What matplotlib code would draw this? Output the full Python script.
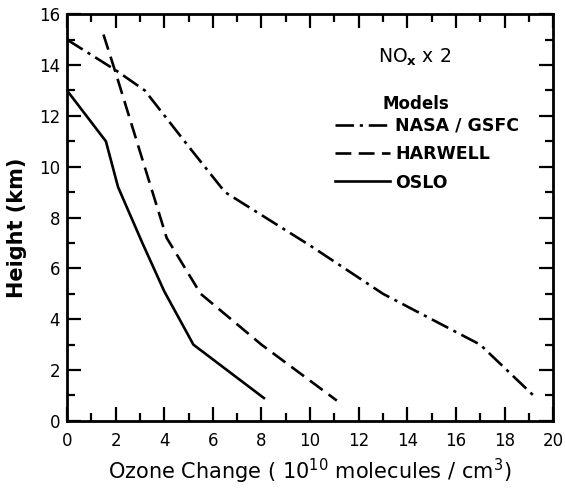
import numpy as np
import matplotlib.pyplot as plt
from matplotlib.ticker import MultipleLocator

# datos
nasa_x = [0, 2.0, 3.2, 5.0, 6.5, 8.5, 10.0, 13.0, 15.0, 17.0, 19.3]
nasa_y = [15.0, 13.8, 13.0, 10.8, 9.0, 7.8, 6.9, 5.0, 4.0, 3.0, 0.9]

harwell_x = [1.5, 2.0, 3.0, 4.1, 5.5, 6.5, 8.0, 11.1]
harwell_y = [15.2, 13.7, 10.6, 7.2, 5.0, 4.2, 3.0, 0.8]

oslo_x = [0, 1.6, 2.1, 3.1, 4.0, 5.2, 8.1]
oslo_y = [13.0, 11.0, 9.2, 7.0, 5.1, 3.0, 0.9]

modelos = ["NASA / GSFC", "HARWELL", "OSLO"]

plt.rcParams['font.family'] = 'DejaVu Sans'

fig = plt.figure(figsize=(5.65, 4.9), dpi=100)
ax = fig.add_axes([0.1186, 0.141, 0.8604, 0.830])

lw = 1.9
l1, = ax.plot(nasa_x, nasa_y, color='k', lw=lw, dashes=(7, 2.2, 1.2, 2.2))
l2, = ax.plot(harwell_x, harwell_y, color='k', lw=lw, dashes=(6, 2.8))
l3, = ax.plot(oslo_x, oslo_y, color='k', lw=lw)

ax.set_xlim(0, 20)
ax.set_ylim(0, 16)
ax.xaxis.set_major_locator(MultipleLocator(2))
ax.xaxis.set_minor_locator(MultipleLocator(1))
ax.yaxis.set_major_locator(MultipleLocator(2))
ax.yaxis.set_minor_locator(MultipleLocator(1))
ax.tick_params(which='major', direction='in', length=10, width=1.6,
               top=True, right=True, labelsize=12, pad=5)
ax.tick_params(axis='x', which='major', pad=8)
ax.tick_params(which='minor', direction='in', length=6, width=1.6,
               top=True, right=True)
for s in ax.spines.values():
    s.set_linewidth(2)

ax.set_xlabel(r"Ozone Change ( 10$^{10}$ molecules / cm$^{3}$)", fontsize=15, labelpad=5)
ax.set_ylabel("Height (km)", fontsize=15, fontweight='bold')
ax.yaxis.set_label_coords(-0.082, 0.475)

ax.text(12.8, 14.3, r"NO$_{\mathbf{x}}$ x 2", fontsize=13.5, ha='left', va='center')
ax.text(13.0, 12.45, "Models", fontsize=12, fontweight='bold', ha='left', va='center')
leg = ax.legend([l1, l2, l3], modelos, frameon=False,
                loc='upper left', bbox_to_anchor=(0.536, 0.765),
                handlelength=3.2, handletextpad=0.3, labelspacing=0.6,
                prop={'weight': 'bold', 'size': 12.5}, borderaxespad=0)

fig.savefig("out.png", dpi=100)
